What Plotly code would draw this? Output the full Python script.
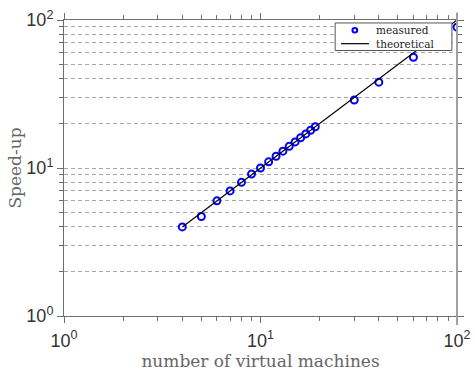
import plotly.graph_objects as go

# measured speed-up per number of virtual machines
vms = [4, 5, 6, 7, 8, 9, 10, 11, 12, 13, 14, 15, 16, 17, 18, 19, 30, 40, 60, 100]
speedup = [4.0, 4.7, 6.0, 7.0, 8.0, 9.1, 10.0, 11.0, 12.0, 13.0, 14.0, 15.0,
           16.0, 17.0, 18.0, 19.0, 28.8, 38.0, 56.0, 89.5]

# ideal linear speed-up
theory_x = [4, 100]
theory_y = [4, 100]

major_vals = [1, 10, 100]
major_text = ["10<sup>0</sup>", "10<sup>1</sup>", "10<sup>2</sup>"]
minor_vals = [2, 3, 4, 5, 6, 7, 8, 9, 20, 30, 40, 50, 60, 70, 80, 90]

serif = "DejaVu Serif, Liberation Serif, serif"
sans = "Liberation Sans, Arial, sans-serif"
axis_grey = "#6e6e6e"
grid_grey = "#a8a8a8"
grid_dash = "4px,3px"
blue = "#0000ff"

fig = go.Figure()

fig.add_trace(
    go.Scatter(
        x=vms,
        y=speedup,
        mode="markers",
        name="measured",
        marker={"symbol": "circle-open", "color": blue, "size": 7,
                "line": {"width": 2, "color": blue}},
    )
)
fig.add_trace(
    go.Scatter(
        x=theory_x,
        y=theory_y,
        mode="lines",
        name="theoretical",
        line={"color": "#000000", "width": 1.2},
    )
)

common_axis = {
    "type": "log",
    "range": [0, 2],
    "tickmode": "array",
    "tickvals": major_vals,
    "ticktext": major_text,
    "showline": True,
    "linecolor": axis_grey,
    "linewidth": 1,
    "mirror": "allticks",
    "ticks": "outside",
    "ticklen": 6,
    "tickcolor": axis_grey,
    "tickfont": {"family": sans, "size": 18, "color": "#333333"},
    "zeroline": False,
    "automargin": False,
}

# compact matlab-style legend box drawn in paper coords
leg_font = {"family": serif, "size": 10.5, "color": "#222222"}
shapes = [
    dict(type="rect", xref="paper", yref="paper", x0=0.690, x1=0.987,
         y0=0.897, y1=0.990, line={"color": "#555555", "width": 1},
         fillcolor="white", layer="above"),
    dict(type="circle", xref="paper", yref="paper", x0=0.734, x1=0.746,
         y0=0.958, y1=0.973, line={"color": blue, "width": 2}, layer="above"),
    dict(type="line", xref="paper", yref="paper", x0=0.705, x1=0.776,
         y0=0.920, y1=0.920, line={"color": "#000000", "width": 1.2}, layer="above"),
    # heavy right frame edge as in the original figure
    dict(type="line", xref="paper", yref="paper", x0=1, x1=1, y0=-0.03, y1=1.025,
         line={"color": "#a0a0a0", "width": 2}),
]
annotations = [
    dict(text="measured", xref="paper", yref="paper", x=0.790, y=0.966,
         xanchor="left", yanchor="middle", showarrow=False, font=leg_font),
    dict(text="theoretical", xref="paper", yref="paper", x=0.790, y=0.920,
         xanchor="left", yanchor="middle", showarrow=False, font=leg_font),
]

fig.update_layout(
    width=475,
    height=371,
    paper_bgcolor="white",
    plot_bgcolor="white",
    margin={"l": 64, "r": 18, "t": 20, "b": 55},
    showlegend=False,
    shapes=shapes,
    annotations=annotations,
    xaxis={
        **common_axis,
        "showgrid": False,
        "ticklabelstandoff": 2,
        "minor": {"tickmode": "array", "tickvals": minor_vals, "ticks": "outside",
                  "ticklen": 4, "tickcolor": axis_grey, "showgrid": False},
        "title": {"text": "number of virtual machines",
                  "font": {"family": serif, "size": 17, "color": "#666666"},
                  "standoff": 0},
    },
    yaxis={
        **common_axis,
        "showgrid": True,
        "gridcolor": grid_grey,
        "griddash": grid_dash,
        "gridwidth": 1,
        "minor": {"tickmode": "array", "tickvals": minor_vals, "ticks": "outside",
                  "ticklen": 4, "tickcolor": axis_grey, "showgrid": True,
                  "gridcolor": grid_grey, "griddash": grid_dash, "gridwidth": 1},
        "title": {"text": "Speed-up",
                  "font": {"family": serif, "size": 17, "color": "#666666"},
                  "standoff": 0},
    },
)

# drop the browser's default body margin so the figure sits at the window origin
fig.write_html(
    "out.html",
    config={"displayModeBar": False},
    post_script="document.body.style.margin='0';",
)
